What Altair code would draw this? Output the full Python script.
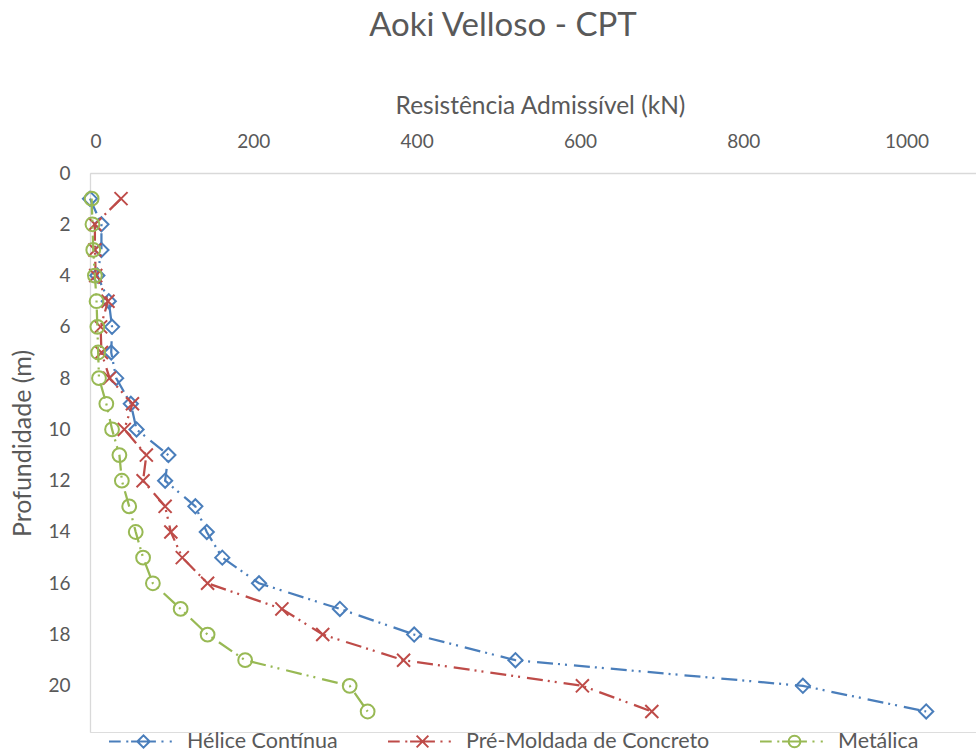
import altair as alt
import pandas as pd

# Depths (m) and allowable resistance (kN) per pile type
depths = list(range(1, 22))
helice = [0, 14, 14, 9, 23, 27, 26, 32, 50, 57, 96, 92, 129, 143, 162, 207, 306, 397, 521, 873, 1024]
pre_moldada = [38, 6, 6, 7, 22, 13, 14, 24, 52, 42, 69, 65, 92, 99, 113, 144, 235, 285, 384, 603, 688]
metalica = [2, 3, 4, 6, 8, 9, 10, 11, 20, 27, 36, 39, 48, 56, 65, 77, 111, 144, 190, 318, 340]

series_names = ["Hélice Contínua", "Pré-Moldada de Concreto", "Metálica"]
series_values = [helice, pre_moldada, metalica]
series_colors = ["#4A7EBB", "#BE4B48", "#98B954"]
x_ticks = [0, 200, 400, 600, 800, 1000]
y_ticks = list(range(0, 21, 2))

FONT = "Lato"
TEXT = "#595959"

rows = []
for name, vals in zip(series_names, series_values):
    for d, v in zip(depths, vals):
        rows.append({"series": name, "depth": d, "value": v})
df = pd.DataFrame(rows)

# Marker shapes: diamond, X (custom path), circle
marker_shapes = ["diamond", "M-1,-1L1,1M-1,1L1,-1", "circle"]
marker_sizes = [200, 170, 190]

# Legend glyphs: long dash, dot, line + marker, dot, dot
def legend_glyph(marker):
    return ("M-1,0H-0.66 M-0.5,0H-0.44 M-0.36,0H0.36 M0.52,0H0.58 M0.76,0H0.82 " + marker)

legend_paths = [
    legend_glyph("M-0.18,0L0,-0.18L0.18,0L0,0.18Z"),
    legend_glyph("M-0.17,-0.17L0.17,0.17M-0.17,0.17L0.17,-0.17"),
    legend_glyph("M0.17,0A0.17,0.17 0 1 1 -0.17,0A0.17,0.17 0 1 1 0.17,0Z"),
]

dash = [16, 5, 2, 5, 2, 7]

x_enc = alt.X(
    "value:Q",
    scale=alt.Scale(domain=[0, 1085], nice=False, zero=False),
    axis=alt.Axis(
        orient="top", values=x_ticks, format="d", title="Resistência Admissível (kN)",
        grid=False, ticks=False, domainColor="#D9D9D9", domainWidth=1.3,
        labelFontSize=19, labelFont=FONT, labelColor=TEXT, labelPadding=22,
        titleFontSize=24.5, titleFont=FONT, titleColor=TEXT, titleFontWeight="normal",
        titleX=450, titleY=-60, titleBaseline="alphabetic",
    ),
)
y_enc = alt.Y(
    "depth:Q",
    scale=alt.Scale(domain=[0, 21.8], nice=False, zero=False, reverse=True),
    axis=alt.Axis(
        values=y_ticks, format="d", title="Profundidade (m)", grid=False, ticks=False,
        domainColor="#D9D9D9", domainWidth=1.3,
        labelFontSize=19, labelFont=FONT, labelColor=TEXT, labelPadding=20,
        titleFontSize=25, titleFont=FONT, titleColor=TEXT, titleFontWeight="normal",
        titleX=-68, titleY=270, titleAngle=-90, titleAlign="center", titleBaseline="middle",
    ),
)

base = alt.Chart(df)
layers = []
for name, color, shape, size in zip(series_names, series_colors, marker_shapes, marker_sizes):
    sub = base.transform_filter(alt.datum.series == name)
    layers.append(
        sub.mark_line(color=color, strokeWidth=2.25, strokeDash=dash).encode(
            x=x_enc, y=y_enc, order=alt.Order("depth:Q")
        )
    )
    layers.append(
        sub.mark_point(shape=shape, size=size, filled=False, color=color, strokeWidth=2, opacity=1).encode(
            x=x_enc, y=y_enc
        )
    )

legend_params = dict(
    title=None, orient="none", direction="horizontal", legendX=18, legendY=533,
    symbolSize=4761, symbolStrokeWidth=2, labelFontSize=21.5, labelFont=FONT,
    labelColor=TEXT, labelOffset=8, labelLimit=0, columnPadding=46, padding=0,
    symbolFillColor="transparent",
)
legend_layer = base.transform_filter("false").mark_point(filled=False, strokeWidth=2, opacity=1).encode(
    x=x_enc, y=y_enc,
    shape=alt.Shape("series:N", scale=alt.Scale(domain=series_names, range=legend_paths),
                    legend=alt.Legend(**legend_params)),
    color=alt.Color("series:N", scale=alt.Scale(domain=series_names, range=series_colors),
                    legend=alt.Legend(**legend_params)),
)
layers.append(legend_layer)

chart = alt.layer(*layers).properties(
    width=886, height=559,
    autosize=alt.AutoSizeParams(type="none"),
    padding={"left": 90, "top": 173, "right": 0, "bottom": 19},
    title=alt.TitleParams(
        "Aoki Velloso - CPT", fontSize=33, font=FONT, color=TEXT, fontWeight="normal",
        anchor="middle", dx=-30, offset=50,
    ),
).configure_view(stroke=None).configure(background="white")

chart.save("out.html", embed_options={"renderer": "svg", "actions": False})
